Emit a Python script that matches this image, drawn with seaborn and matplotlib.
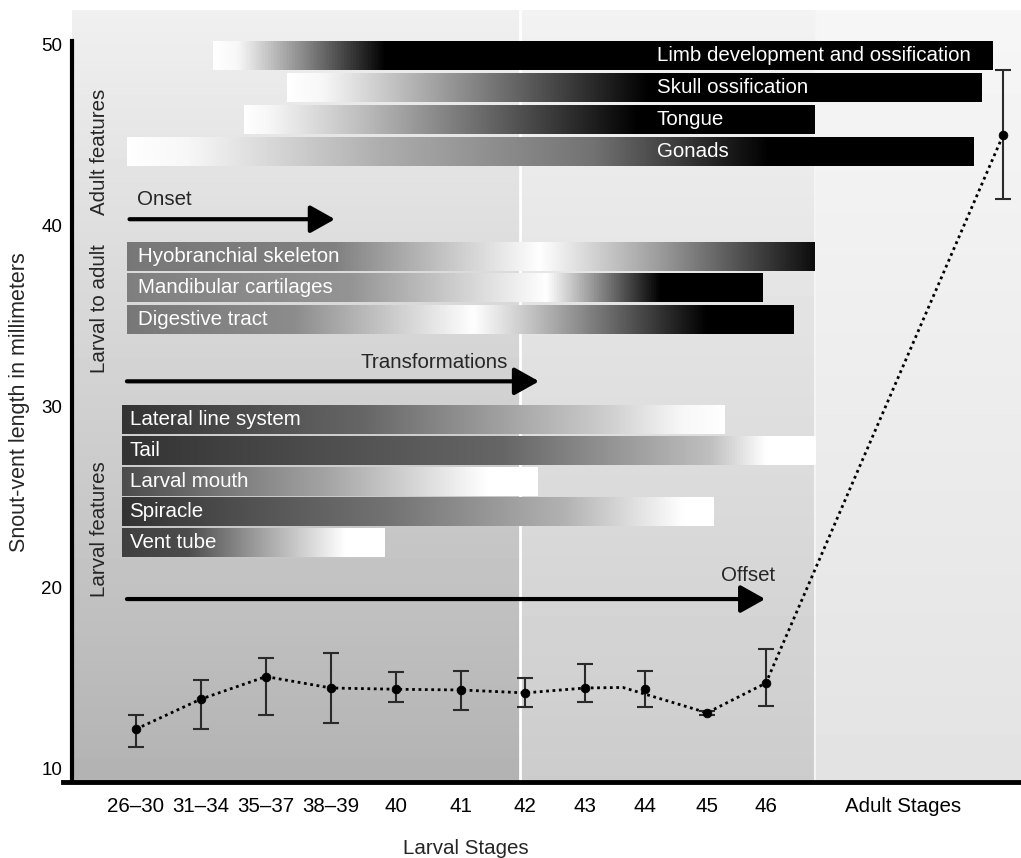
import numpy as np
import pandas as pd
import matplotlib
matplotlib.use("Agg")
import matplotlib.pyplot as plt
import seaborn as sns
from matplotlib.colors import LinearSegmentedColormap

# stages on the x axis
stages = ['26–30', '31–34', '35–37', '38–39', '40', '41', '42', '43', '44', '45', '46', 'Adult Stages']

# snout-vent length (mm): mean and error bar ends
svl_mean = [12.2, 13.86, 15.1, 14.47, 14.4, 14.36, 14.2, 14.47, 14.4, 13.1, 14.74, 45.0]
svl_low = [11.2, 12.2, 13.0, 12.54, 13.7, 13.25, 13.4, 13.7, 13.4, 13.0, 13.5, 41.45]
svl_high = [13.0, 14.9, 16.1, 16.4, 15.35, 15.4, 15.0, 15.8, 15.4, 13.2, 16.6, 48.6]

# the dotted line has an extra bend between stage 43 and 44 and skips the 44 point
bend_x = 7.49
bend_y = 14.5

# features: name, group, start and end (in stage units)
feature_names = ['Limb development and ossification', 'Skull ossification', 'Tongue', 'Gonads',
                 'Hyobranchial skeleton', 'Mandibular cartilages', 'Digestive tract',
                 'Lateral line system', 'Tail', 'Larval mouth', 'Spiracle', 'Vent tube']
feature_group = ['adult'] * 4 + ['transition'] * 3 + ['larval'] * 5
feature_start = [1.185, 2.32, 1.66, -0.14, -0.14, -0.14, -0.14, -0.215, -0.215, -0.215, -0.215, -0.215]
feature_end = [13.17, 13.0, 10.43, 12.88, 10.43, 9.63, 10.11, 9.06, 10.45, 6.18, 8.88, 3.83]

# ---- layout / style ----
stage_pos = [0, 1, 2, 3, 4, 5, 5.985, 6.91, 7.83, 8.785, 9.69, 13.34]
tick_pos = stage_pos[:-1] + [11.8]
row_centers = [49.37, 47.6, 45.83, 44.1, 38.30, 36.59, 34.83, 29.28, 27.57, 25.86, 24.23, 22.52]
bar_h = 1.6
fs = 14.8

# gray level stops along each bar (fraction, level)
bar_stops = [
    [(0, 1.0), (0.03, 0.97), (0.22, 0.0), (1, 0.0)],
    [(0, 1.0), (0.05, 0.97), (0.52, 0.0), (1, 0.0)],
    [(0, 1.0), (0.04, 0.97), (0.2, 0.75), (0.69, 0.0), (1, 0.0)],
    [(0, 1.0), (0.07, 0.97), (0.3, 0.68), (0.55, 0.45), (0.76, 0.0), (1, 0.0)],
    [(0, 0.47), (0.3, 0.5), (0.6, 1.0), (0.78, 0.6), (1, 0.05)],
    [(0, 0.5), (0.35, 0.58), (0.66, 1.0), (0.84, 0.0), (1, 0.0)],
    [(0, 0.47), (0.25, 0.55), (0.52, 1.0), (0.6, 0.78), (0.87, 0.0), (1, 0.0)],
    [(0, 0.2), (0.4, 0.4), (0.8, 0.8), (0.93, 0.97), (1, 1.0)],
    [(0, 0.2), (0.55, 0.4), (0.85, 0.75), (0.93, 1.0), (1, 1.0)],
    [(0, 0.3), (0.5, 0.65), (0.88, 1.0), (1, 1.0)],
    [(0, 0.2), (0.45, 0.45), (0.75, 0.7), (0.95, 1.0), (1, 1.0)],
    [(0, 0.25), (0.25, 0.3), (0.5, 0.6), (0.85, 1.0), (1, 1.0)],
]
label_x = {'adult': 8.01, 'transition': 0.03, 'larval': -0.1}

sns.set_style('white')
plt.rcParams['font.family'] = ['Liberation Sans', 'DejaVu Sans']

fig = plt.figure(figsize=(10.21, 8.58), dpi=100)
ax = fig.add_axes([72 / 1021, 76 / 858, 949 / 1021, 772 / 858])
xmin, xmax = -0.985, 13.615
ymin, ymax = 9.28, 51.9

# background panels (vertical gradients)
panels = [(xmin, 5.91, 0.94, 0.70), (5.91, 10.45, 0.95, 0.80), (10.45, xmax, 0.965, 0.89)]
for x0, x1, top, bottom in panels:
    grad = np.linspace(bottom, top, 256).reshape(-1, 1)
    ax.imshow(grad, cmap='gray', vmin=0, vmax=1, origin='lower', aspect='auto',
              extent=[x0, x1, ymin, ymax], zorder=0)
ax.axvline(5.91, color='white', lw=2, zorder=0.5)
ax.axvline(10.45, color='#f4f4f4', lw=1.5, zorder=0.5)

# gradient bars
row = np.linspace(0, 1, 512).reshape(1, -1)
for i, name in enumerate(feature_names):
    cmap = LinearSegmentedColormap.from_list(
        'g%d' % i, [(p, (v, v, v)) for p, v in bar_stops[i]])
    yc = row_centers[i]
    ax.imshow(row, cmap=cmap, vmin=0, vmax=1, aspect='auto', origin='lower',
              extent=[feature_start[i], feature_end[i], yc - bar_h / 2, yc + bar_h / 2], zorder=1)
    ax.text(label_x[feature_group[i]], yc, name, color='white', fontsize=fs,
            va='center', ha='left', zorder=2)

# arrows with captions
arrows = [(-0.1, 3.06, 40.35, 'Onset', 0.015, 41.45, 'left'),
          (-0.14, 6.2, 31.4, 'Transformations', 3.45, 32.45, 'left'),
          (-0.14, 9.68, 19.38, 'Offset', 9.42, 20.7, 'center')]
for x0, x1, y, txt, tx, ty, ha in arrows:
    ax.annotate('', xy=(x1, y), xytext=(x0, y),
                arrowprops=dict(arrowstyle='-|>,head_length=0.75,head_width=0.42',
                                color='black', lw=3, shrinkA=0, shrinkB=0, mutation_scale=20),
                zorder=3)
    ax.text(tx, ty, txt, fontsize=fs, ha=ha, va='center', zorder=3)

# group labels
for txt, yc in [('Adult features', 44.04), ('Larval to adult', 35.43), ('Larval features', 23.24)]:
    ax.text(-0.56, yc, txt, rotation=90, fontsize=fs, ha='center', va='center', zorder=3)

# SVL line with error bars
line_df = pd.DataFrame({'x': stage_pos[:8] + [bend_x] + stage_pos[9:],
                        'y': svl_mean[:8] + [bend_y] + svl_mean[9:]})
sns.lineplot(data=line_df, x='x', y='y', sort=False, color='black', lw=2,
             linestyle=(0, (1, 1.3)), ax=ax, zorder=4)
pts = pd.DataFrame({'x': stage_pos, 'y': svl_mean})
ax.errorbar(stage_pos, svl_mean,
            yerr=[np.array(svl_mean) - np.array(svl_low), np.array(svl_high) - np.array(svl_mean)],
            fmt='none', ecolor='#2a2a2a', elinewidth=1.5, capsize=5.5, capthick=1.5, zorder=4)
sns.scatterplot(data=pts, x='x', y='y', color='black', s=40, edgecolor='black', ax=ax, zorder=5)

# axes
ax.set_xlim(xmin, xmax)
ax.set_ylim(ymin, ymax)
ax.set_xticks(tick_pos)
ax.set_xticklabels(stages, fontsize=fs)
ax.set_yticks([10, 20, 30, 40, 50])
ax.set_yticklabels(['10', '20', '30', '40', '50'], fontsize=13.5)
ax.tick_params(axis='x', direction='inout', length=10, width=1.5, pad=6, colors='black')
ax.tick_params(axis='y', direction='inout', length=10, width=1, pad=2, colors='black')
ax.xaxis.get_major_ticks()[-1].tick1line.set_visible(False)
ax.set_xlabel('')
ax.set_ylabel('')
for s in ['top', 'right']:
    ax.spines[s].set_visible(False)
ax.spines['left'].set_linewidth(3)
ax.spines['left'].set_color('black')
ax.spines['left'].set_bounds(ymin, 50.2)
ax.spines['bottom'].set_linewidth(3.5)
ax.spines['bottom'].set_color('black')
ax.spines['bottom'].set_bounds(-1.12, xmax)
ax.spines['bottom'].set_zorder(6)
ax.spines['left'].set_zorder(6)

fig.text(20 / 1021, 1 - 402 / 858, 'Snout-vent length in millimeters', fontsize=15.5,
         rotation=90, ha='center', va='center')
fig.text(466 / 1021, 1 - 848 / 858, 'Larval Stages', fontsize=fs, ha='center', va='center')

fig.savefig('out.png', dpi=100)
